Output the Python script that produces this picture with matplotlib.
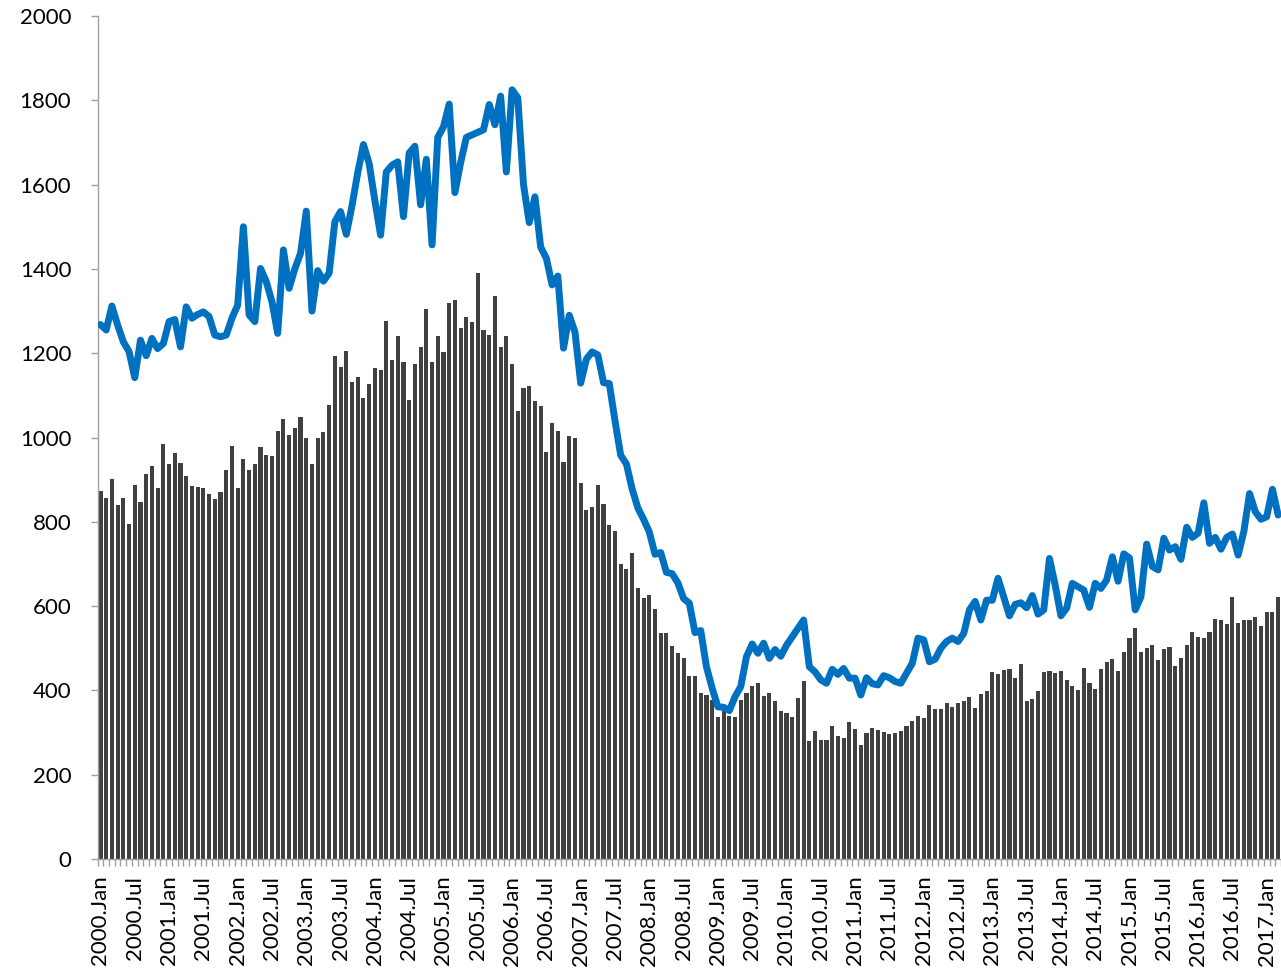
import matplotlib
matplotlib.use("Agg")
import matplotlib.pyplot as plt
import numpy as np

# Monthly data, 2000.Jan .. 2017.Mar
bars = [
    873, 857, 901, 841, 857, 794, 887, 848, 913, 933, 881, 984,
    936, 964, 939, 909, 886, 883, 881, 867, 853, 871, 924, 980,
    881, 948, 924, 936, 978, 958, 956, 1015, 1044, 1006, 1023, 1048,
    998, 936, 998, 1012, 1077, 1193, 1168, 1206, 1131, 1144, 1093, 1128,
    1166, 1159, 1276, 1185, 1241, 1180, 1088, 1174, 1214, 1304, 1179, 1241,
    1203, 1320, 1326, 1260, 1285, 1273, 1390, 1255, 1243, 1336, 1214, 1240,
    1175, 1062, 1118, 1122, 1087, 1075, 965, 1035, 1016, 942, 1003, 999,
    892, 829, 834, 888, 842, 793, 779, 700, 687, 727, 642, 619,
    626, 594, 537, 537, 505, 488, 478, 435, 434, 393, 389, 377,
    338, 365, 340, 338, 377, 393, 411, 418, 387, 395, 375, 352,
    346, 336, 381, 422, 280, 304, 282, 282, 316, 292, 288, 326,
    308, 270, 299, 310, 306, 301, 296, 298, 304, 316, 327, 340,
    335, 365, 355, 355, 369, 361, 369, 376, 384, 359, 391, 399,
    443, 439, 448, 450, 429, 463, 376, 379, 399, 444, 446, 441,
    447, 425, 410, 402, 452, 417, 403, 450, 467, 474, 447, 492,
    525, 549, 491, 500, 507, 472, 498, 504, 458, 478, 508, 538,
    526, 525, 538, 569, 566, 558, 622, 560, 567, 567, 573, 552,
    585, 587, 622,
]

line = [
    1268, 1255, 1312, 1267, 1227, 1204, 1142, 1231, 1194, 1235, 1211, 1223,
    1275, 1280, 1215, 1310, 1283, 1292, 1298, 1287, 1243, 1239, 1243, 1283,
    1314, 1500, 1291, 1275, 1401, 1370, 1322, 1247, 1445, 1354, 1400, 1437,
    1537, 1300, 1396, 1371, 1390, 1512, 1536, 1482, 1550, 1628, 1695, 1650,
    1562, 1480, 1630, 1646, 1654, 1524, 1675, 1691, 1552, 1660, 1457, 1712,
    1737, 1791, 1581, 1652, 1712, 1718, 1724, 1730, 1790, 1742, 1810, 1630,
    1825, 1806, 1600, 1510, 1571, 1452, 1425, 1362, 1383, 1212, 1290, 1250,
    1129, 1186, 1203, 1196, 1130, 1128, 1040, 958, 937, 878, 833, 806,
    776, 723, 727, 680, 677, 655, 618, 607, 537, 542, 456, 405,
    361, 360, 352, 385, 409, 480, 510, 488, 512, 476, 497, 481,
    507, 527, 547, 567, 456, 444, 425, 417, 450, 438, 452, 429,
    429, 389, 430, 416, 413, 435, 430, 421, 417, 441, 464, 524,
    520, 468, 474, 500, 516, 524, 516, 535, 591, 611, 567, 614,
    614, 666, 622, 577, 604, 608, 596, 625, 581, 591, 713, 650,
    577, 595, 654, 646, 638, 597, 654, 642, 662, 717, 659, 724,
    714, 591, 622, 747, 694, 686, 761, 733, 741, 711, 787, 763,
    773, 845, 749, 763, 735, 763, 771, 721, 777, 867, 824, 806,
    812, 877, 816,
]

month_names = ["Jan", "Feb", "Mar", "Apr", "May", "Jun",
               "Jul", "Aug", "Sep", "Oct", "Nov", "Dec"]
start_year = 2000
y_ticks = [0, 200, 400, 600, 800, 1000, 1200, 1400, 1600, 1800, 2000]

n = len(bars)
labels = [f"{start_year + k // 12}.{month_names[k % 12]}" for k in range(n)]
x = np.arange(n)

plt.rcParams['font.family'] = ['Lato', 'DejaVu Sans']

W, H = 1281, 976
fig = plt.figure(figsize=(W / 100, H / 100), dpi=100)
left_px, right_px, top_px, bottom_px = 97.6, 1281, 16, 859
ax = fig.add_axes([left_px / W, 1 - bottom_px / H,
                   (right_px - left_px) / W, (bottom_px - top_px) / H])

ax.bar(x, bars, width=0.72, color="#404040", zorder=2)
ax.plot(x, line, color="#0070C0", linewidth=5.0, solid_joinstyle="round",
        solid_capstyle="round", zorder=3, clip_on=True)

ax.set_xlim(-0.5, n - 1)
ax.set_ylim(0, 2000)
ax.set_yticks(y_ticks)
ax.set_yticklabels([str(v) for v in y_ticks], fontsize=16)

major = [k for k in range(n) if k % 6 == 0]
ax.set_xticks(major)
ax.set_xticklabels([labels[k] for k in major], rotation=90, fontsize=16,
                   va="top", ha="center")
ax.set_xticks(np.arange(-0.5, n, 1.0), minor=True)
ax.tick_params(axis="x", which="major", length=0, pad=12)
ax.tick_params(axis="x", which="minor", length=5, color="#A0A0A0", width=1)
ax.tick_params(axis="y", which="major", length=5, color="#A0A0A0", width=1, pad=14)

for s in ["top", "right"]:
    ax.spines[s].set_visible(False)
for s in ["left", "bottom"]:
    ax.spines[s].set_color("#A0A0A0")
    ax.spines[s].set_linewidth(1)

fig.savefig("out.png", dpi=100)
